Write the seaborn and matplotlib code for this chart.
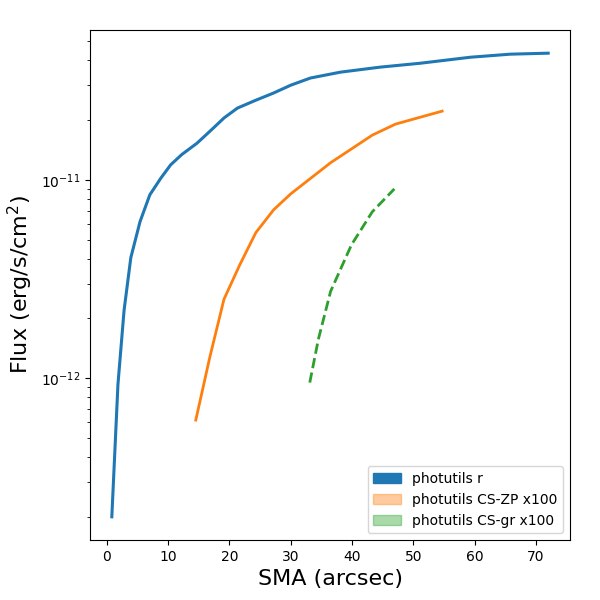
import numpy as np
import pandas as pd
import matplotlib
matplotlib.use("Agg")
import matplotlib.pyplot as plt
import matplotlib.patches as mpatches
import seaborn as sns

# データ
sma_r = [0.8, 1.8, 2.8, 3.9, 5.4, 7.0, 8.8, 10.4, 12.2, 14.7, 17.0, 19.1, 21.3,
         24.3, 27.2, 30.0, 33.2, 38.1, 44.6, 51.1, 59.3, 65.8, 72.0]
flux_r = [2.0e-13, 9.3e-13, 2.2e-12, 4.05e-12, 6.15e-12, 8.4e-12, 1.02e-11,
          1.19e-11, 1.34e-11, 1.53e-11, 1.78e-11, 2.05e-11, 2.3e-11, 2.52e-11,
          2.74e-11, 3.0e-11, 3.26e-11, 3.49e-11, 3.70e-11, 3.87e-11, 4.15e-11,
          4.3e-11, 4.35e-11]
sma_zp = [14.5, 16.8, 19.1, 21.7, 24.3, 27.2, 30.0, 36.5, 43.3, 47.1, 54.7]
flux_zp = [6.15e-13, 1.28e-12, 2.5e-12, 3.74e-12, 5.42e-12, 7.06e-12, 8.5e-12,
           1.22e-11, 1.68e-11, 1.91e-11, 2.22e-11]
sma_gr = [33.1, 34.5, 36.5, 39.9, 43.3, 46.9]
flux_gr = [9.5e-13, 1.57e-12, 2.74e-12, 4.7e-12, 6.9e-12, 9.0e-12]

fig, ax = plt.subplots(figsize=(6, 6), dpi=100)
fig.subplots_adjust(left=0.15, right=0.95, top=0.95, bottom=0.1)

sns.lineplot(x=sma_r, y=flux_r, ax=ax, color="C0", lw=2.2)
sns.lineplot(x=sma_zp, y=flux_zp, ax=ax, color="C1", lw=2)
sns.lineplot(x=sma_gr, y=flux_gr, ax=ax, color="C2", lw=2, linestyle="--")
ax.set_yscale("log")
ax.set_xlabel("SMA (arcsec)", fontsize=16)
ax.set_ylabel("Flux (erg/s/cm$^2$)", fontsize=16)

handles = [mpatches.Patch(color="C0", label="photutils r"),
           mpatches.Patch(color="C1", alpha=0.4, label="photutils CS-ZP x100"),
           mpatches.Patch(color="C2", alpha=0.4, label="photutils CS-gr x100")]
ax.legend(handles=handles, loc="lower right")

fig.savefig("out.png")
